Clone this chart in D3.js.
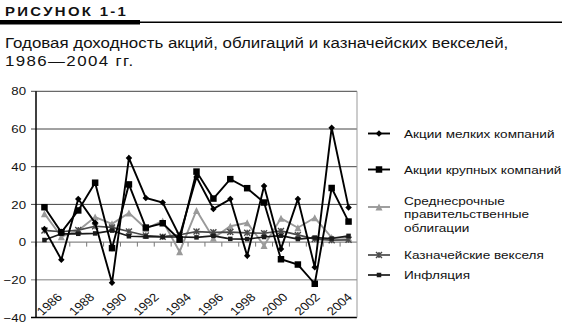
<!DOCTYPE html>
<html>
<head>
<meta charset="utf-8">
<script src="https://cdn.jsdelivr.net/npm/d3@7"></script>
<style>
  html, body { margin: 0; padding: 0; background: #fff; }
  svg { display: block; }
  text { font-family: "Liberation Sans", Arial, sans-serif; fill: #111; }
</style>
</head>
<body>
<svg id="chart" width="562" height="327"></svg>
<script>
// Annual returns, %, 1986–2004
const years = [1986, 1987, 1988, 1989, 1990, 1991, 1992, 1993, 1994, 1995,
               1996, 1997, 1998, 1999, 2000, 2001, 2002, 2003, 2004];
const smallStocks = [6.9, -9.3, 22.9, 10.2, -21.6, 44.6, 23.4, 21.0, 3.1, 34.5,
                     17.6, 22.8, -7.3, 29.8, -3.6, 22.8, -13.3, 60.7, 18.4];
const largeStocks = [18.5, 5.2, 16.8, 31.5, -3.2, 30.6, 7.7, 10.0, 1.3, 37.4,
                     23.1, 33.4, 28.6, 21.0, -9.1, -11.9, -22.1, 28.7, 10.9];
const govBonds    = [15.1, 2.9, 6.1, 13.3, 9.7, 15.5, 7.2, 11.2, -5.1, 16.8,
                     2.1, 8.4, 10.2, -1.8, 12.6, 7.6, 12.9, 2.4, 2.3];
const tBills      = [6.2, 5.5, 6.4, 8.4, 7.8, 5.6, 3.5, 2.9, 3.9, 5.6,
                     5.2, 5.3, 4.9, 4.7, 5.9, 3.8, 1.6, 1.0, 1.2];
const inflation   = [1.1, 4.4, 4.4, 4.6, 6.1, 3.1, 2.9, 2.7, 2.7, 2.5,
                     3.3, 1.7, 1.6, 2.7, 3.4, 1.6, 2.4, 1.9, 3.3];

const yTicks = [-40, -20, 0, 20, 40, 60, 80];
const xTickLabels = [1986, 1988, 1990, 1992, 1994, 1996, 1998, 2000, 2002, 2004];

const seriesNames = [
  ["Акции мелких компаний"],
  ["Акции крупных компаний"],
  ["Среднесрочные", "правительственные", "облигации"],
  ["Казначейские векселя"],
  ["Инфляция"]
];
const seriesValues = [smallStocks, largeStocks, govBonds, tBills, inflation];

const figureLabel = "РИСУНОК 1-1";
const titleLines = ["Годовая доходность акций, облигаций и казначейских векселей,",
                    "1986—2004 гг."];

// ---- drawing ----
const svg = d3.select("#chart");
const SX = 1.15; // horizontal stretch of the lettering

const styles = [
  { color: "#000", width: 1.9, marker: "diamond", size: 6.5 },
  { color: "#000", width: 1.9, marker: "square",  size: 6.5 },
  { color: "#9a9a9a", width: 1.9, marker: "triangle", size: 7 },
  { color: "#4a4a4a", width: 1.7, marker: "asterisk", size: 6 },
  { color: "#1a1a1a", width: 1.7, marker: "square",  size: 4.5 }
];

function stretchedText(g, x, y, str, opts = {}) {
  const t = g.append("text")
    .attr("transform", `translate(${x},${y}) scale(${SX},1)` + (opts.rotate ? ` rotate(${opts.rotate})` : ""))
    .attr("font-size", opts.size || 12)
    .attr("text-anchor", opts.anchor || "start")
    .text(str);
  if (opts.weight) t.attr("font-weight", opts.weight);
  if (opts.spacing) t.attr("letter-spacing", opts.spacing);
  if (opts.dy) t.attr("dy", opts.dy);
  return t;
}

function drawMarker(g, st, cx, cy) {
  const s = st.size;
  if (st.marker === "diamond") {
    g.append("path").attr("d", `M${cx},${cy - s / 2}L${cx + s / 2},${cy}L${cx},${cy + s / 2}L${cx - s / 2},${cy}Z`)
      .attr("fill", st.color);
  } else if (st.marker === "square") {
    g.append("rect").attr("x", cx - s / 2).attr("y", cy - s / 2).attr("width", s).attr("height", s)
      .attr("fill", st.color);
  } else if (st.marker === "triangle") {
    g.append("path").attr("d", `M${cx},${cy - s / 2}L${cx + s / 2},${cy + s / 2}L${cx - s / 2},${cy + s / 2}Z`)
      .attr("fill", st.color);
  } else if (st.marker === "asterisk") {
    const h = s / 2;
    g.append("path")
      .attr("d", `M${cx - h},${cy - h}L${cx + h},${cy + h}M${cx - h},${cy + h}L${cx + h},${cy - h}M${cx},${cy - h}L${cx},${cy + h}`)
      .attr("stroke", st.color).attr("stroke-width", 1.4).attr("fill", "none");
  }
}

// header
svg.append("rect").attr("x", 0).attr("y", 20).attr("width", 140).attr("height", 4.5).attr("fill", "#000");
svg.append("rect").attr("x", 140).attr("y", 21.5).attr("width", 422).attr("height", 1.5).attr("fill", "#000");
stretchedText(svg, 5, 16, figureLabel, { size: 13, weight: "bold", spacing: 2 });
stretchedText(svg, 5, 48, titleLines[0], { size: 14.7 });
stretchedText(svg, 5, 66, titleLines[1], { size: 14.7, spacing: 1.2 });

// plot
const plot = { left: 36, right: 357, top: 91.3, bottom: 317.5 };
const x = d3.scaleBand().domain(years).range([plot.left, plot.right]);
const y = d3.scaleLinear().domain([-40, 80]).range([plot.bottom, plot.top]);
const cx = d => x(d) + x.bandwidth() / 2;

const grid = svg.append("g");
yTicks.forEach(v => {
  let color = "#444", w = 1;
  if (v === -20) { color = "#aaa"; w = 1.6; }
  if (v === 0) { color = "#888"; w = 1.3; }
  if (v === -40) { color = "#000"; w = 1.5; }
  grid.append("line").attr("x1", plot.left - 5).attr("x2", plot.right)
    .attr("y1", y(v)).attr("y2", y(v)).attr("stroke", color).attr("stroke-width", w);
});
// category ticks on the zero line
years.forEach(yr => {
  grid.append("line").attr("x1", x(yr)).attr("x2", x(yr))
    .attr("y1", y(0)).attr("y2", y(0) + 4.5).attr("stroke", "#777").attr("stroke-width", 1);
});
grid.append("line").attr("x1", plot.right).attr("x2", plot.right)
  .attr("y1", plot.top).attr("y2", plot.bottom).attr("stroke", "#999").attr("stroke-width", 1);
grid.append("line").attr("x1", plot.left).attr("x2", plot.left)
  .attr("y1", plot.top).attr("y2", plot.bottom).attr("stroke", "#000").attr("stroke-width", 1.5);

// y labels
yTicks.forEach(v => {
  stretchedText(svg, 26, y(v), v < 0 ? "\u2212" + Math.abs(v) : String(v), { size: 11.5, anchor: "end", dy: "0.36em" });
});

// x labels (every second year), rotated
const labelX = d3.scaleLinear().domain([1986, 2004]).range([63, 353]);
xTickLabels.forEach(yr => {
  stretchedText(svg, labelX(yr), 298, String(yr), { size: 11.5, anchor: "end", rotate: -45 });
});

// series: draw lighter ones first, black on top
const order = [2, 3, 4, 1, 0];
const line = d3.line().x((d, i) => cx(years[i])).y(d => y(d));
order.forEach(k => {
  const st = styles[k];
  const g = svg.append("g");
  g.append("path").datum(seriesValues[k]).attr("d", line)
    .attr("fill", "none").attr("stroke", st.color).attr("stroke-width", st.width)
    .attr("stroke-linejoin", "miter");
  seriesValues[k].forEach((v, i) => drawMarker(g, st, cx(years[i]), y(v)));
});

// legend
const legendY = [133.5, 169.5, 207, 255, 275];
const lg = svg.append("g");
seriesNames.forEach((names, k) => {
  const st = styles[k];
  const ly = legendY[k];
  lg.append("line").attr("x1", 368).attr("x2", 390).attr("y1", ly).attr("y2", ly)
    .attr("stroke", st.color).attr("stroke-width", st.width);
  drawMarker(lg, st, 379, ly);
  const first = names.length === 1 ? ly : ly - 6.3;
  names.forEach((n, j) => stretchedText(lg, 404, first + j * 13.5, n, { size: 11.8, dy: "0.36em" }));
});
</script>
</body>
</html>
